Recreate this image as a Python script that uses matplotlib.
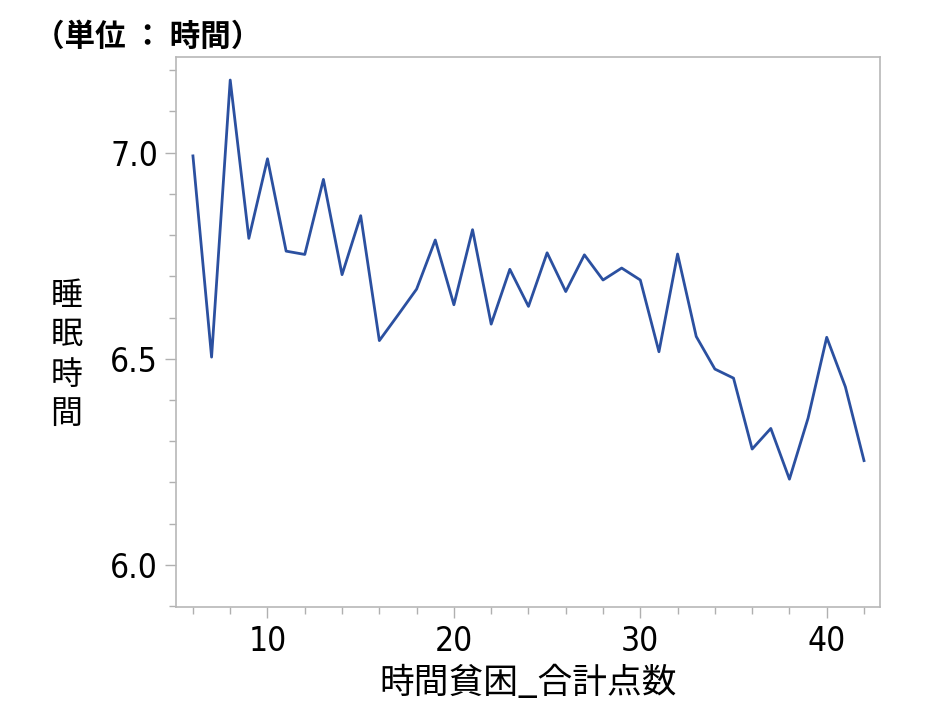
import numpy as np
import matplotlib
import matplotlib.pyplot as plt
from matplotlib.ticker import MultipleLocator

matplotlib.use('Agg')

plt.rcParams['font.family'] = ['Noto Sans CJK JP', 'DejaVu Sans']

# data
score = list(range(6, 43))
sleep_hours = [6.992, 6.504, 7.176, 6.792, 6.985, 6.761, 6.753, 6.935, 6.704, 6.847,
               6.544, 6.606, 6.669, 6.788, 6.631, 6.813, 6.584, 6.717, 6.627, 6.757,
               6.663, 6.752, 6.691, 6.720, 6.691, 6.517, 6.754, 6.554, 6.475, 6.453,
               6.281, 6.331, 6.208, 6.356, 6.552, 6.432, 6.253]
xticks = [10, 20, 30, 40]
yticks = [6.0, 6.5, 7.0]

fig = plt.figure(figsize=(9.37, 7.03), dpi=100)
ax = fig.add_axes([0.188, 0.1366, 0.751, 0.7824])

ax.plot(score, sleep_hours, color='#2b50a0', linewidth=2.0)

ax.set_xlim(5.1, 42.85)
ax.set_ylim(5.898, 7.232)
ax.set_xticks(xticks)
ax.set_yticks(yticks)
ax.set_yticklabels(['%.1f' % v for v in yticks])
ax.xaxis.set_minor_locator(MultipleLocator(2))
ax.yaxis.set_minor_locator(MultipleLocator(0.1))

for s in ax.spines.values():
    s.set_color('#b8b8b8')
    s.set_linewidth(1.2)

ax.tick_params(which='major', length=8, width=1, color='#b0b0b0', labelsize=24, pad=5)
ax.tick_params(which='minor', length=5, width=1, color='#b0b0b0')
for lab in ax.get_xticklabels() + ax.get_yticklabels():
    lab.set_family('DejaVu Sans')
    lab.set_stretch('condensed')

ax.set_xlabel('時間貧困_合計点数', fontsize=25, labelpad=6)
fig.text(0.071, 0.495, '睡\n眠\n時\n間', fontsize=23,
         ha='center', va='center', linespacing=1.3)
fig.text(0.036, 0.947, '（単位 ： 時間）', fontsize=22, fontweight='bold',
         ha='left', va='center')

plt.savefig('out.png', dpi=100)
plt.close()
